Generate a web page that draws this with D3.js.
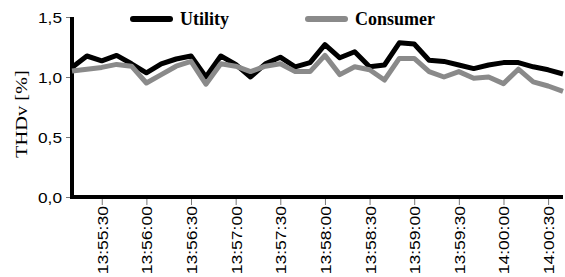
<!DOCTYPE html>
<html>
<head>
<meta charset="utf-8">
<script src="https://cdn.jsdelivr.net/npm/d3@7"></script>
<style>
  body { margin: 0; background: #fff; }
  svg { display: block; }
</style>
</head>
<body>
<div id="graph"></div>
<script>
// sample times, one every 10 s
const times = ["13:55:10","13:55:20","13:55:30","13:55:40","13:55:50","13:56:00",
  "13:56:10","13:56:20","13:56:30","13:56:40","13:56:50","13:57:00",
  "13:57:10","13:57:20","13:57:30","13:57:40","13:57:50","13:58:00",
  "13:58:10","13:58:20","13:58:30","13:58:40","13:58:50","13:59:00",
  "13:59:10","13:59:20","13:59:30","13:59:40","13:59:50","14:00:00",
  "14:00:10","14:00:20","14:00:30","14:00:40"];

const utility = [1.08,1.175,1.135,1.18,1.11,1.035,1.11,1.15,1.175,1.00,1.175,1.105,
  1.00,1.11,1.165,1.085,1.12,1.27,1.16,1.21,1.085,1.10,1.285,1.275,
  1.14,1.13,1.10,1.07,1.10,1.12,1.12,1.085,1.06,1.025];

const consumer = [1.05,1.065,1.08,1.105,1.09,0.95,1.02,1.09,1.13,0.94,1.11,1.09,
  1.045,1.09,1.11,1.045,1.045,1.18,1.02,1.085,1.06,0.975,1.155,1.155,
  1.045,1.00,1.045,0.99,1.00,0.945,1.065,0.96,0.925,0.88];

const yTicks = [0, 0.5, 1.0, 1.5];
const xTicks = times.filter((t, i) => i % 3 === 2);

const seriesNames = ["Utility", "Consumer"];
const seriesColors = ["#000000", "#8a8a8a"];

const width = 565, height = 277;
const svg = d3.select("#graph").append("svg")
    .attr("width", width)
    .attr("height", height);

const x = d3.scalePoint().domain(times).range([72, 563]);
const y = d3.scaleLinear().domain([0, 1.5]).range([197, 17]);

const fmt = d => d3.format(".1f")(d).replace(".", ",");

// y axis
const yAxis = svg.append("g")
    .attr("transform", "translate(72,0)")
    .call(d3.axisLeft(y).tickValues(yTicks).tickSize(6).tickFormat(fmt));
yAxis.select(".domain").remove();
yAxis.selectAll(".tick line").attr("stroke", "#777").attr("x2", -6);
yAxis.selectAll(".tick text")
    .attr("x", null)
    .attr("dy", null)
    .attr("text-anchor", "end")
    .attr("dominant-baseline", "central")
    .attr("transform", "translate(-10,0) scale(1.15,1)")
    .style("font-family", "'Liberation Sans', Arial, sans-serif")
    .style("font-size", "15px")
    .attr("fill", "#000");

// x axis
const xAxis = svg.append("g")
    .attr("transform", "translate(0,197)")
    .call(d3.axisBottom(x).tickValues(xTicks).tickSize(8).tickFormat(d => d));
xAxis.select(".domain").remove();
xAxis.selectAll(".tick line").attr("stroke", "#777").attr("y1", 2);
xAxis.selectAll(".tick text")
    .attr("y", null)
    .attr("dy", null)
    .attr("text-anchor", "end")
    .attr("dominant-baseline", "central")
    .attr("transform", "translate(0,9) rotate(-90) scale(1.17,1)")
    .style("font-family", "'Liberation Sans', Arial, sans-serif")
    .style("font-size", "15px")
    .attr("fill", "#000");

// axis lines
svg.append("line")
    .attr("x1", 72).attr("x2", 72)
    .attr("y1", y(1.5)).attr("y2", 199)
    .attr("stroke", "#000").attr("stroke-width", 4);
svg.append("line")
    .attr("x1", 70).attr("x2", 563)
    .attr("y1", 197).attr("y2", 197)
    .attr("stroke", "#000").attr("stroke-width", 4);

// y title
svg.append("text")
    .attr("transform", "translate(27,114) rotate(-90) scale(1.2,1)")
    .attr("text-anchor", "middle")
    .style("font-family", "'Liberation Serif', 'Times New Roman', serif")
    .style("font-size", "17px")
    .text("THDv [%]");

// lines
const line = d3.line()
    .x((d, i) => x(times[i]))
    .y(d => y(d));

[utility, consumer].forEach((vals, k) => {
  svg.append("path")
      .datum(vals)
      .attr("fill", "none")
      .attr("stroke", seriesColors[k])
      .attr("stroke-width", 5)
      .attr("stroke-linejoin", "round")
      .attr("d", line);
});

// legend
const legendX = [130, 305];
seriesNames.forEach((name, k) => {
  svg.append("line")
      .attr("x1", legendX[k] + 3).attr("x2", legendX[k] + 40)
      .attr("y1", 19).attr("y2", 19)
      .attr("stroke", seriesColors[k])
      .attr("stroke-width", 6)
      .attr("stroke-linecap", "round");
  svg.append("text")
      .attr("x", legendX[k] + 50)
      .attr("y", 25)
      .style("font-family", "'Liberation Serif', 'Times New Roman', serif")
      .style("font-weight", "bold")
      .style("font-size", "18px")
      .text(name);
});
</script>
</body>
</html>
